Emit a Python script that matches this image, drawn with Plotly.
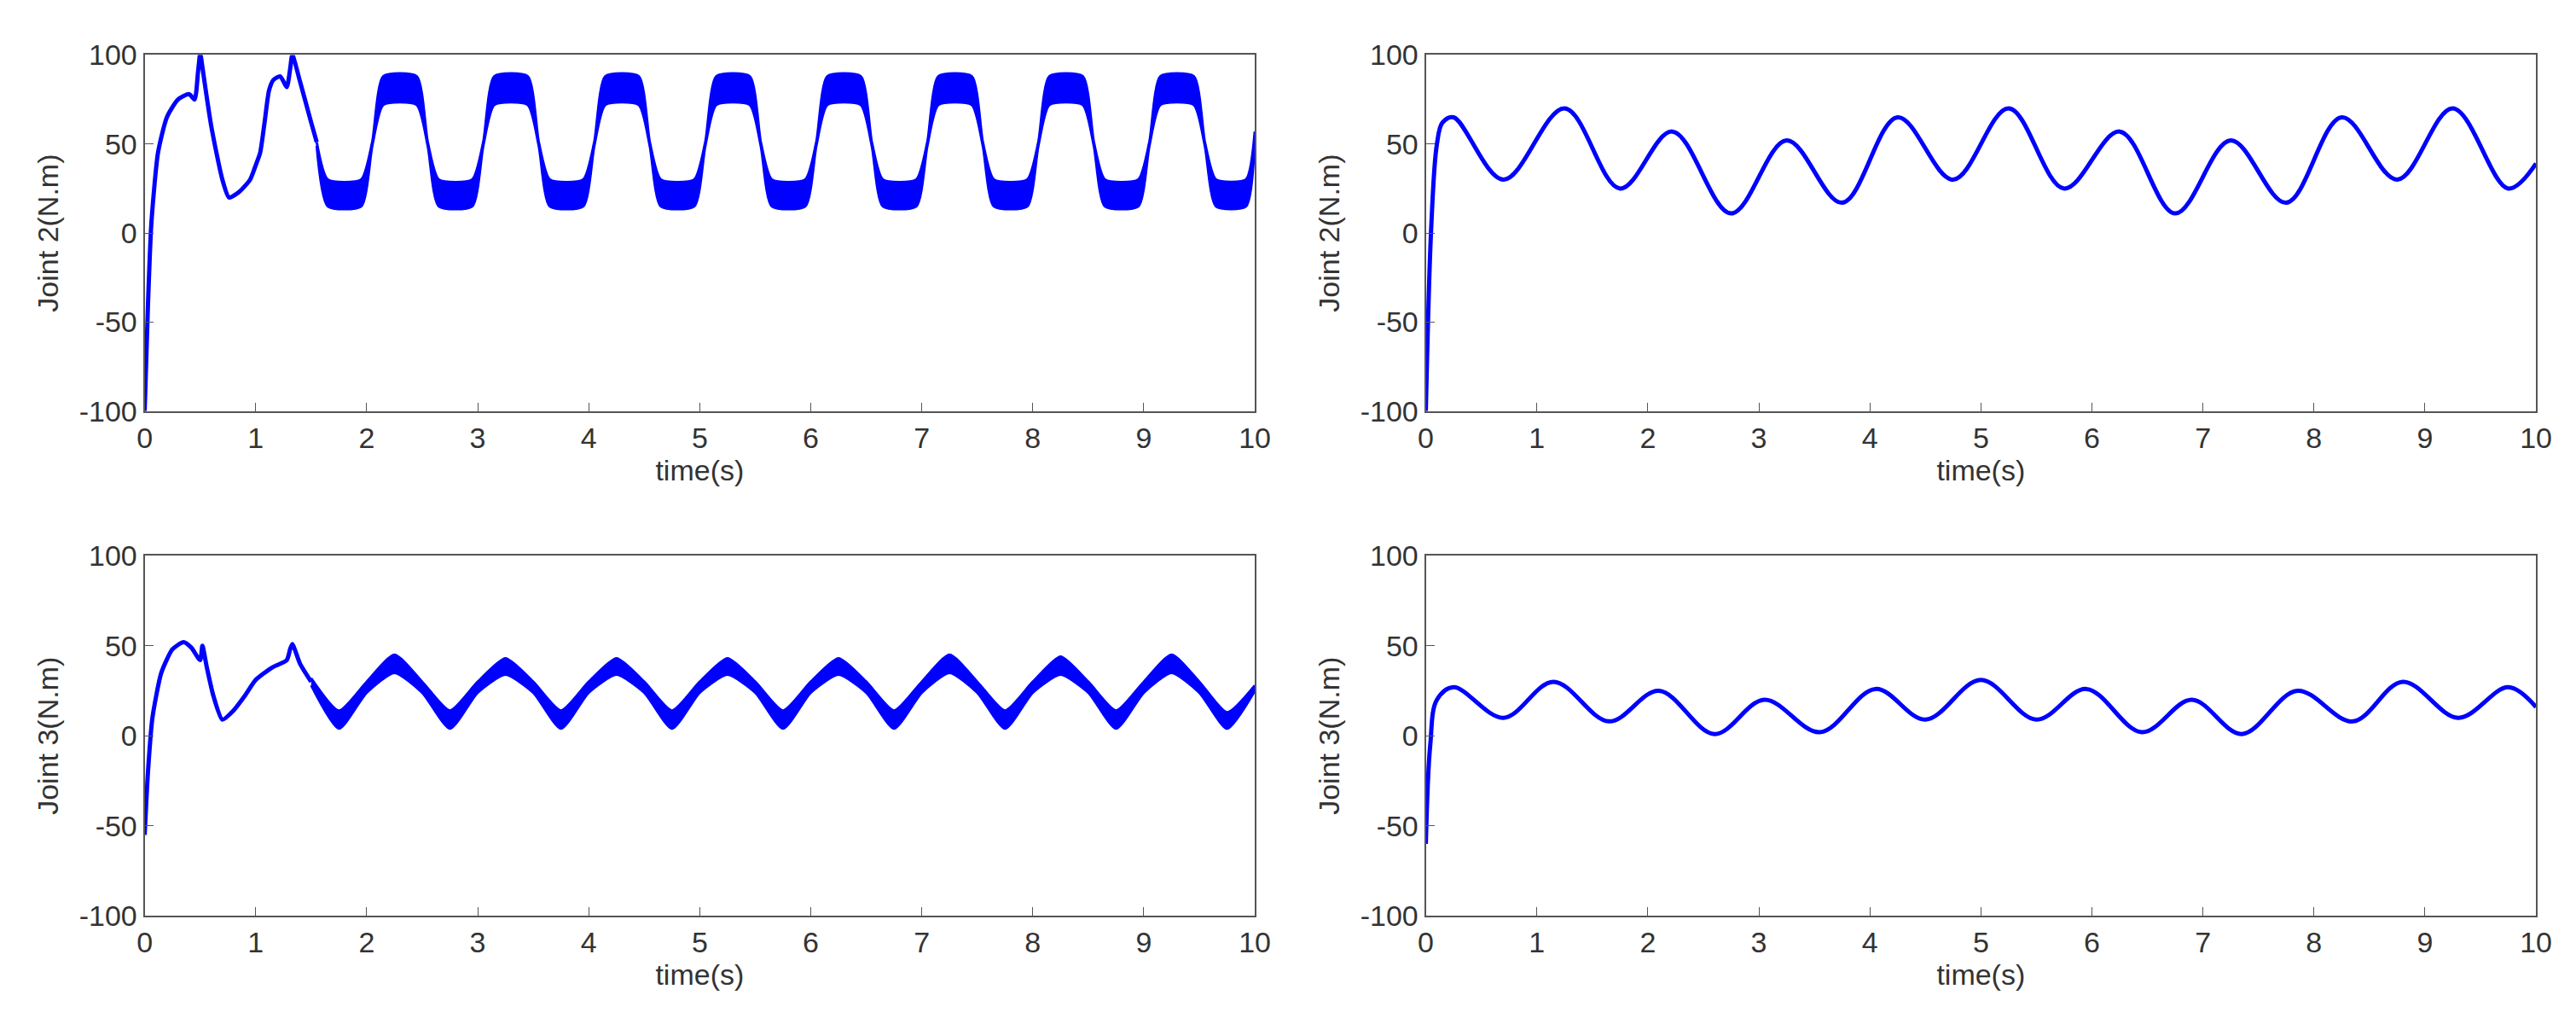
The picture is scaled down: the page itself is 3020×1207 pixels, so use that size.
import plotly.graph_objects as go

# ---- top-left: Joint 2, noisy controller ----
tl_start_t = [0.0, 0.03, 0.06, 0.12, 0.2, 0.3, 0.4, 0.45, 0.48, 0.5]
tl_start_y = [-100, -40, 5, 45, 65, 75, 78, 75, 90, 102]
tl_fall_t = [0.5, 0.6, 0.7, 0.76, 0.85, 0.95, 1.0, 1.04, 1.08, 1.12, 1.16, 1.22, 1.28, 1.31, 1.33, 1.4, 1.5, 1.55]
tl_fall_y = [102, 60, 30, 20, 23, 30, 38, 45, 62, 80, 86, 88, 82, 92, 100, 85, 62, 51]
tl_band_t = [1.55, 1.65, 1.95, 2.05, 2.15, 2.45, 2.55, 2.65, 2.95, 3.05, 3.15, 3.45,
             3.55, 3.65, 3.95, 4.05, 4.15, 4.45, 4.55, 4.65, 4.95, 5.05, 5.15, 5.45,
             5.55, 5.65, 5.95, 6.05, 6.15, 6.45, 6.55, 6.65, 6.95, 7.05, 7.15, 7.45,
             7.55, 7.65, 7.95, 8.05, 8.15, 8.45, 8.55, 8.65, 8.95, 9.05, 9.15, 9.45,
             9.55, 9.65, 9.92, 10.0]
tl_band_hi = [51, 30, 30, 51, 88, 88, 51, 30, 30, 51, 88, 88,
              51, 30, 30, 51, 88, 88, 51, 30, 30, 51, 88, 88,
              51, 30, 30, 51, 88, 88, 51, 30, 30, 51, 88, 88,
              51, 30, 30, 51, 88, 88, 51, 30, 30, 51, 88, 88,
              51, 30, 30, 57]
tl_band_lo = [49, 15, 15, 49, 72, 72, 49, 15, 15, 49, 72, 72,
              49, 15, 15, 49, 72, 72, 49, 15, 15, 49, 72, 72,
              49, 15, 15, 49, 72, 72, 49, 15, 15, 49, 72, 72,
              49, 15, 15, 49, 72, 72, 49, 15, 15, 49, 72, 72,
              49, 15, 15, 53]

# ---- top-right: Joint 2, smooth controller ----
tr_t = [0.0, 0.05, 0.1, 0.15, 0.25, 0.7, 1.25, 1.75, 2.22, 2.75, 3.25, 3.75, 4.25, 4.75,
        5.25, 5.75, 6.25, 6.75, 7.25, 7.75, 8.25, 8.75, 9.25, 9.75, 10.0]
tr_y = [-100, 5, 50, 62, 65, 30, 70, 25, 57, 11, 52, 17, 65, 30,
        70, 25, 57, 11, 52, 17, 65, 30, 70, 25, 39]

# ---- bottom-left: Joint 3, noisy controller ----
bl_start_t = [0.0, 0.03, 0.07, 0.15, 0.25, 0.35, 0.42, 0.5, 0.52, 0.56, 0.62, 0.7, 0.8, 0.9,
              1.0, 1.15, 1.28, 1.31, 1.33, 1.4, 1.5]
bl_start_y = [-55, -20, 10, 35, 48, 52, 49, 42, 50, 38, 22, 9, 14, 22,
              31, 38, 42, 48, 51, 40, 30]
bl_band_t = [1.5, 1.75, 2.0, 2.25, 2.5, 2.75, 3.0, 3.25, 3.5, 3.75, 4.0, 4.25, 4.5, 4.75,
             5.0, 5.25, 5.5, 5.75, 6.0, 6.25, 6.5, 6.75, 7.0, 7.25, 7.5, 7.75, 8.0, 8.25,
             8.5, 8.75, 9.0, 9.25, 9.5, 9.75, 10.0]
bl_band_hi = [32, 14, 30, 45, 30, 14, 30, 43, 30, 14, 30, 43, 30, 14,
              30, 43, 30, 14, 30, 43, 30, 14, 30, 45, 30, 14, 30, 44,
              30, 14, 30, 45, 30, 13, 28]
bl_band_lo = [28, 4, 24, 35, 24, 4, 24, 34, 24, 4, 24, 34, 24, 4,
              24, 34, 24, 4, 24, 34, 24, 4, 24, 35, 24, 4, 24, 34,
              24, 4, 24, 35, 24, 4, 25]

# ---- bottom-right: Joint 3, smooth controller ----
br_t = [0.0, 0.04, 0.1, 0.25, 0.7, 1.15, 1.65, 2.1, 2.6, 3.05, 3.55, 4.05, 4.5,
        5.0, 5.5, 5.95, 6.45, 6.9, 7.35, 7.85, 8.35, 8.8, 9.3, 9.75, 10.0]
br_y = [-60, -5, 20, 27, 10, 30, 8, 25, 1, 20, 2, 26, 9,
        31, 9, 26, 2, 20, 1, 25, 8, 30, 10, 27, 16]

x_ticks = list(range(0, 11))
y_ticks = [-100, -50, 0, 50, 100]
y_tick_text = ["-100", "-50", "0", "50", "100"]
y_labels = ["Joint 2(N.m)", "Joint 2(N.m)", "Joint 3(N.m)", "Joint 3(N.m)"]

BLUE = "#0000ff"
fig = go.Figure()


def add_line(t, y, ax, smooth=0.6):
    fig.add_trace(go.Scatter(x=t, y=y, mode="lines", line=dict(color=BLUE, width=5, shape="spline", smoothing=smooth),
                             xaxis="x" + ax, yaxis="y" + ax, showlegend=False, hoverinfo="skip"))


def add_band(t, hi, lo, ax):
    fig.add_trace(go.Scatter(x=t, y=lo, mode="lines", line=dict(color=BLUE, width=3, shape="spline", smoothing=0.6),
                             xaxis="x" + ax, yaxis="y" + ax, showlegend=False, hoverinfo="skip"))
    fig.add_trace(go.Scatter(x=t, y=hi, mode="lines", fill="tonexty", fillcolor=BLUE,
                             line=dict(color=BLUE, width=3, shape="spline", smoothing=0.6),
                             xaxis="x" + ax, yaxis="y" + ax, showlegend=False, hoverinfo="skip"))


add_line(tl_start_t, tl_start_y, "")
add_line(tl_fall_t, tl_fall_y, "")
add_band(tl_band_t, tl_band_hi, tl_band_lo, "")
add_line(tr_t, tr_y, "2", 1.0)
add_line(bl_start_t, bl_start_y, "3")
add_band(bl_band_t, bl_band_hi, bl_band_lo, "3")
add_line(br_t, br_y, "4", 1.0)

font = dict(family="Liberation Sans, Arial, sans-serif", size=34, color="#333333")
xdom = [[0.051, 0.486], [0.553, 0.988], [0.051, 0.486], [0.553, 0.988]]
ydom = [[0.611, 0.968], [0.611, 0.968], [0.105, 0.466], [0.105, 0.466]]

layout = dict(width=3020, height=1207, paper_bgcolor="white", plot_bgcolor="white",
              margin=dict(l=0, r=0, t=0, b=0), font=font)
for i in range(4):
    s = "" if i == 0 else str(i + 1)
    axis_common = dict(showline=True, linecolor="#555555", linewidth=2, mirror=True,
                       ticks="inside", ticklen=10, tickcolor="#555555", showgrid=False,
                       zeroline=False, tickfont=font)
    layout["xaxis" + s] = dict(domain=xdom[i], anchor="y" + s, range=[0, 10], tickvals=x_ticks,
                               title=dict(text="time(s)", font=font, standoff=6), **axis_common)
    layout["yaxis" + s] = dict(domain=ydom[i], anchor="x" + s, range=[-100, 100], tickvals=y_ticks,
                               ticktext=y_tick_text,
                               title=dict(text=y_labels[i], font=font, standoff=14), **axis_common)
fig.update_layout(**layout)

fig.write_html("out.html")
